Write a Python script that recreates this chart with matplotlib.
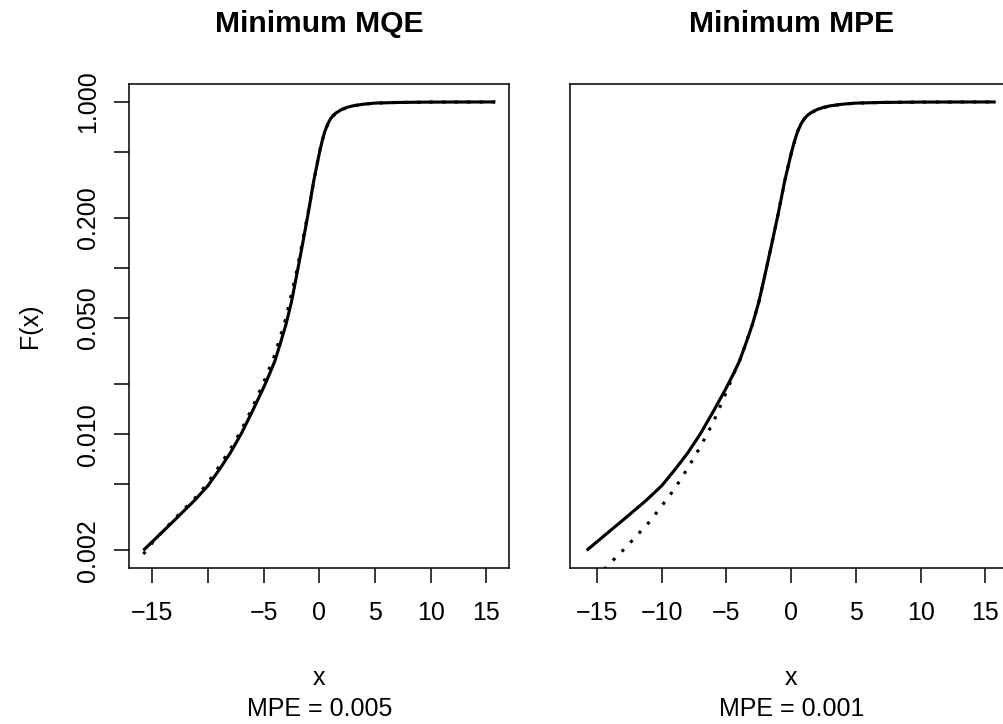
import numpy as np
import matplotlib
matplotlib.use("Agg")
import matplotlib.pyplot as plt
import matplotlib.transforms as mtransforms

plt.rcParams['font.family'] = ['Liberation Sans', 'DejaVu Sans']

# true distribution function (solid line, same in both panels)
x_true = [-15.8, -13, -11.2, -10, -9, -8, -7, -6, -5, -4.5, -4, -3.5, -3,
          -2.5, -2, -1.5, -1, -0.5, 0, 0.25, 0.5, 0.75, 1, 1.25, 1.5, 2, 2.5,
          3, 4, 5, 7, 10, 15.8]
F_true = [0.0020, 0.00304, 0.0040, 0.0049, 0.0061, 0.0077, 0.0101, 0.0138,
          0.0191, 0.0228, 0.0275, 0.0352, 0.0457, 0.0625, 0.093, 0.140, 0.213,
          0.335, 0.49, 0.58, 0.665, 0.735, 0.79, 0.83, 0.858, 0.90, 0.928,
          0.947, 0.97, 0.984, 0.993, 0.998, 1.0]

# fit with minimum MQE (dotted, left panel)
x_mqe = [-15.8, -15, -13, -11.2, -10, -9, -8, -7, -6, -5, -4, -3, -2, -1, 0,
         0.5, 1, 1.5, 2, 3, 4, 5, 7, 10, 15.8]
F_mqe = [0.0019, 0.00222, 0.0031, 0.0041, 0.0051, 0.0064, 0.0081, 0.0106,
         0.0145, 0.0205, 0.030, 0.050, 0.098, 0.217, 0.50, 0.67, 0.79, 0.858,
         0.90, 0.947, 0.97, 0.984, 0.993, 0.998, 1.0]

# fit with minimum MPE (dotted, right panel)
x_mpe = [-15.8, -14, -13, -12, -11, -10, -9, -8, -7, -6, -5, -4.5, -4, -3.5,
         -3, -2.5, -2, -1.5, -1, -0.5, 0, 0.5, 1, 1.5, 2, 3, 4, 5, 7, 10, 15.8]
F_mpe = [0.0012, 0.00167, 0.0020, 0.00242, 0.00294, 0.0037, 0.0047, 0.00624,
         0.00845, 0.0119, 0.018, 0.0225, 0.0275, 0.0352, 0.0457, 0.0625, 0.093,
         0.140, 0.213, 0.335, 0.49, 0.665, 0.79, 0.858, 0.90, 0.947, 0.97,
         0.984, 0.993, 0.998, 1.0]

titles = ['Minimum MQE', 'Minimum MPE']
mpe_labels = ['MPE = 0.005', 'MPE = 0.001']
x_ticks = [-15, -10, -5, 0, 5, 10, 15]
y_ticks = [0.002, 0.005, 0.010, 0.020, 0.050, 0.100, 0.200, 0.500, 1.000]
y_ticklabels = ['0.002', '', '0.010', '', '0.050', '', '0.200', '', '1.000']

W, H = 1004, 724
fig = plt.figure(figsize=(W / 100, H / 100), dpi=100)

# R-style 4% axis extension
xr = (min(x_true), max(x_true))
dx = 0.04 * (xr[1] - xr[0])
xlim = (xr[0] - dx, xr[1] + dx)
ly = np.log10([min(F_true), max(F_true)])
dy = 0.04 * (ly[1] - ly[0])
ylim = (10 ** (ly[0] - dy), 10 ** (ly[1] + dy))

ax1 = fig.add_axes([129.3 / W, 155.7 / H, 380 / W, 484.3 / H])
ax2 = fig.add_axes([570.3 / W, 155.7 / H, 441.8 / W, 484.3 / H])

fits = [(x_mqe, F_mqe), (x_mpe, F_mpe)]
for i, ax in enumerate([ax1, ax2]):
    ax.plot(x_true, F_true, color='black', lw=2.25, solid_capstyle='butt')
    ax.plot(fits[i][0], fits[i][1], color='black', lw=2.25,
            linestyle=(0, (1, 3)))
    ax.set_yscale('log')
    ax.set_xlim(xlim)
    ax.set_ylim(ylim)
    ax.minorticks_off()
    ax.set_xticks(x_ticks)
    if i == 0:
        ax.set_xticklabels(['\u221215', '', '\u22125', '0', '5', '10', '15'])
        ax.set_yticks(y_ticks)
        ax.set_yticklabels(y_ticklabels, rotation=90, va='center')
        ax.set_ylabel('F(x)', fontsize=18, labelpad=24)
    else:
        ax.set_xticklabels(['\u221215', '\u221210', '\u22125', '0', '5', '10', '15'])
        ax.set_yticks([])
    ax.tick_params(axis='both', length=10.8, width=1.1, labelsize=18,
                   direction='out', color='black')
    ax.tick_params(axis='x', pad=13)
    ax.tick_params(axis='y', pad=10.5)
    for s in ax.spines.values():
        s.set_linewidth(1.1)

    trans = mtransforms.blended_transform_factory(ax.transAxes, fig.transFigure)
    ax.text(0.5, (H - 32.3) / H, titles[i], transform=trans, ha='center',
            va='baseline', fontsize=21.6, fontweight='bold')
    ax.text(0.5, (H - 685) / H, 'x', transform=trans, ha='center',
            va='baseline', fontsize=18)
    ax.text(0.5, (H - 715.7) / H, mpe_labels[i], transform=trans, ha='center',
            va='baseline', fontsize=18)

fig.savefig('out.png', dpi=100)
